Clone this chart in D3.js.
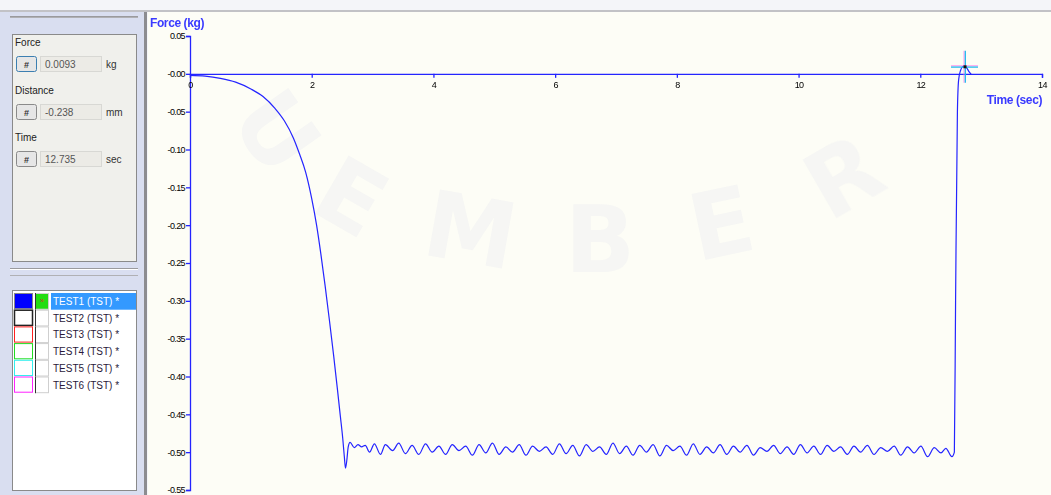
<!DOCTYPE html>
<html>
<head>
<meta charset="utf-8">
<script src="https://cdn.jsdelivr.net/npm/d3@7"></script>
<style>
  html, body { margin: 0; padding: 0; background: #f4f5f9; }
  svg { display: block; font-family: "Liberation Sans", Arial, sans-serif; }
</style>
</head>
<body>
<svg id="view" width="1051" height="495"></svg>
<script>
// ---- Force / time trace of test TEST1 ----
const timeSec = [
  0, 0.25, 0.5, 0.75, 1.0, 1.2, 1.4, 1.55, 1.7, 1.8, 1.9, 2.0, 2.08, 2.15, 2.22, 2.29, 2.36, 2.42, 2.47, 2.51, 2.535, 2.555, 2.575, 2.6, 2.63,
  2.70, 2.76, 2.82, 2.88, 2.95, 3.03, 3.13, 3.21, 3.33, 3.43, 3.54, 3.65, 3.76, 3.87, 3.98, 4.09,
  4.20, 4.31, 4.42, 4.53, 4.64, 4.75, 4.86, 4.97, 5.08, 5.19, 5.30, 5.41, 5.52, 5.63, 5.74, 5.85,
  5.96, 6.07, 6.18, 6.29, 6.40, 6.51, 6.62, 6.73, 6.84, 6.95, 7.06, 7.17, 7.28, 7.39, 7.50, 7.61,
  7.72, 7.83, 7.94, 8.05, 8.16, 8.27, 8.38, 8.49, 8.60, 8.71, 8.82, 8.93, 9.04, 9.15, 9.26, 9.37,
  9.48, 9.59, 9.70, 9.81, 9.92, 10.03, 10.14, 10.25, 10.36, 10.47, 10.58, 10.69, 10.80, 10.91,
  11.02, 11.13, 11.24, 11.35, 11.46, 11.57, 11.68, 11.79, 11.90, 12.01, 12.12, 12.23, 12.34, 12.42,
  12.52, 12.56, 12.58, 12.61, 12.63, 12.66, 12.71, 12.75, 12.80, 12.84
];
const forceKg = [
  -0.002, -0.003, -0.006, -0.011, -0.020, -0.030, -0.046, -0.062, -0.085, -0.106, -0.130, -0.165, -0.200, -0.238, -0.280, -0.325, -0.372, -0.415, -0.452, -0.482, -0.505, -0.521, -0.512, -0.493, -0.487,
  -0.494, -0.490, -0.493, -0.491, -0.500, -0.489, -0.503, -0.490, -0.498, -0.488, -0.502, -0.491, -0.503, -0.489, -0.500, -0.492,
  -0.503, -0.490, -0.498, -0.492, -0.504, -0.490, -0.501, -0.488, -0.503, -0.493, -0.500, -0.490, -0.504, -0.492, -0.499, -0.493,
  -0.503, -0.489, -0.502, -0.491, -0.505, -0.490, -0.499, -0.493, -0.503, -0.488, -0.502, -0.492, -0.504, -0.491, -0.500, -0.490,
  -0.505, -0.491, -0.498, -0.492, -0.504, -0.489, -0.503, -0.493, -0.501, -0.490, -0.503, -0.492, -0.500, -0.491, -0.504, -0.494,
  -0.499, -0.491, -0.502, -0.493, -0.503, -0.490, -0.501, -0.492, -0.503, -0.491, -0.499, -0.493, -0.503, -0.492,
  -0.500, -0.491, -0.503, -0.494, -0.499, -0.492, -0.504, -0.493, -0.501, -0.492, -0.506, -0.494, -0.501, -0.495,
  -0.506, -0.500, -0.300, -0.050, -0.008, 0.004, 0.010, 0.009, 0.003, -0.001
];

// axis ticks
const xTicks = [0, 2, 4, 6, 8, 10, 12, 14];
const yTicks = [0.05, 0, -0.05, -0.10, -0.15, -0.20, -0.25, -0.30, -0.35, -0.40, -0.45, -0.50, -0.55];
const yTickLabels = ["0.05", "-0.00", "-0.05", "-0.10", "-0.15", "-0.20", "-0.25", "-0.30", "-0.35", "-0.40", "-0.45", "-0.50", "-0.55"];

// cursor readout
const readoutNames = ["Force", "Distance", "Time"];
const readoutValues = ["0.0093", "-0.238", "12.735"];
const readoutUnits = ["kg", "mm", "sec"];
const cursorTime = 12.735;
const cursorForce = 0.0093;

// test list
const testNames = ["TEST1 (TST) *", "TEST2 (TST) *", "TEST3 (TST) *", "TEST4 (TST) *", "TEST5 (TST) *", "TEST6 (TST) *"];
const testColors = ["#0000ff", "#222222", "#ff2020", "#22dd22", "#33eeee", "#ff22ff"];

const svg = d3.select("#view");

// ---------- window background ----------
svg.append("rect").attr("x", 0).attr("y", 0).attr("width", 1051).attr("height", 495).attr("fill", "#f4f5f9");
svg.append("rect").attr("x", 0).attr("y", 10).attr("width", 1051).attr("height", 2).attr("fill", "#c2c2c6");

// ---------- left panel ----------
const panel = svg.append("g");
panel.append("rect").attr("x", 0).attr("y", 12).attr("width", 146).attr("height", 483).attr("fill", "#d9def0");
panel.append("rect").attr("x", 144).attr("y", 12).attr("width", 3).attr("height", 483).attr("fill", "#8c8c90");
// separator strips
[[16, 17], [268, 275]].forEach(([a, b]) => {
  panel.append("line").attr("x1", 10).attr("x2", 138).attr("y1", a + 0.5).attr("y2", a + 0.5).attr("stroke", "#9a9a9e");
  panel.append("line").attr("x1", 10).attr("x2", 138).attr("y1", a + 1.5).attr("y2", a + 1.5).attr("stroke", "#ffffff");
  panel.append("line").attr("x1", 10).attr("x2", 138).attr("y1", b + 0.5).attr("y2", b + 0.5).attr("stroke", "#b0b0b4");
});

// readout box
panel.append("rect").attr("x", 12.5).attr("y", 34.5).attr("width", 124).attr("height", 227)
  .attr("fill", "#f0f0ec").attr("stroke", "#8a8a8a");
const rowTop = [36, 84, 131];
readoutNames.forEach((name, i) => {
  const y0 = rowTop[i];
  panel.append("text").attr("x", 15).attr("y", y0 + 10).attr("font-size", 10).attr("fill", "#222").text(name);
  panel.append("rect").attr("x", 16.5).attr("y", y0 + 20.5).attr("width", 20).attr("height", 15).attr("rx", 2)
    .attr("fill", "#e6e6e6").attr("stroke", i === 0 ? "#3c7fb1" : "#8a8a8a");
  panel.append("text").attr("x", 26.5).attr("y", y0 + 31.5).attr("font-size", 9).attr("font-weight", "bold")
    .attr("text-anchor", "middle").attr("fill", "#333").text("#");
  panel.append("rect").attr("x", 40.5).attr("y", y0 + 20.5).attr("width", 61).attr("height", 15)
    .attr("fill", "#ecebe6").attr("stroke", "#d8d8d4");
  panel.append("text").attr("x", 45).attr("y", y0 + 31.5).attr("font-size", 10).attr("fill", "#555").text(readoutValues[i]);
  panel.append("text").attr("x", 106).attr("y", y0 + 32).attr("font-size", 10).attr("fill", "#333").text(readoutUnits[i]);
});

// test list box
panel.append("rect").attr("x", 12.5).attr("y", 290.5).attr("width", 124).attr("height", 200)
  .attr("fill", "#ffffff").attr("stroke", "#8a8a8a");
const rowH = 16.7;
testNames.forEach((name, i) => {
  const y0 = 293 + i * rowH;
  if (i === 0) {
    panel.append("rect").attr("x", 51).attr("y", y0).attr("width", 85).attr("height", rowH).attr("fill", "#3399ff");
  }
  panel.append("rect").attr("x", 14.5).attr("y", y0 + 0.5).attr("width", 18).attr("height", rowH - 1.5)
    .attr("fill", i === 0 ? testColors[0] : "#ffffff")
    .attr("stroke", i === 0 ? "#888" : testColors[i]).attr("stroke-width", i === 1 ? 1.5 : 1);
  panel.append("rect").attr("x", 35.5).attr("y", y0 + 0.5).attr("width", 13).attr("height", rowH - 1)
    .attr("fill", i === 0 ? "#22dd11" : "#ffffff").attr("stroke", "#cfcfcf");
  panel.append("line").attr("x1", 35.5).attr("x2", 35.5).attr("y1", y0).attr("y2", y0 + rowH)
    .attr("stroke", "#333");
  if (i === 0) {
    panel.append("text").attr("x", 42).attr("y", y0 + 10).attr("font-size", 7).attr("text-anchor", "middle")
      .attr("fill", "#d03020").text("»");
  }
  panel.append("text").attr("x", 53).attr("y", y0 + 12).attr("font-size", 10)
    .attr("fill", i === 0 ? "#ffffff" : "#2a1a3a").text(name);
});

// ---------- plot area ----------
svg.append("rect").attr("x", 148).attr("y", 12).attr("width", 903).attr("height", 483).attr("fill", "#fdfdf6");

// faint watermark lettering
const mark = svg.append("g").attr("fill", "#e6e7f0").attr("opacity", 0.3)
  .attr("font-size", 92).attr("font-weight", "bold").attr("font-family", "DejaVu Sans, sans-serif");
[["U", 250, 150, 55], ["E", 335, 225, 30], ["M", 465, 262, 10], ["B", 600, 272, 0], ["E", 728, 255, -12], ["R", 860, 205, -30]]
  .forEach(([ch, x, y, r]) => {
    mark.append("text").attr("transform", `translate(${x},${y}) rotate(${r})`).attr("text-anchor", "middle").text(ch);
  });

const x = d3.scaleLinear().domain([0, 14]).range([190, 1042]);
const y = d3.scaleLinear().domain([-0.55, 0.05]).range([490, 36]);

const blue = "#2424ff";

// y axis
const yAxis = d3.axisLeft(y).tickValues(yTicks).tickSize(4).tickPadding(1)
  .tickFormat((d, i) => yTickLabels[i]);
const gy = svg.append("g").attr("transform", `translate(${x(0)},0)`).call(yAxis);
gy.select(".domain").attr("stroke", blue).attr("stroke-width", 1.3);
gy.selectAll(".tick line").attr("stroke", blue).attr("stroke-width", 1.3);
gy.selectAll(".tick text").attr("fill", "#000").attr("font-size", 9).attr("letter-spacing", -0.6)
  .attr("font-family", "Liberation Sans, Arial, sans-serif");

// x axis along zero force
const xAxis = d3.axisBottom(x).tickValues(xTicks).tickSize(4).tickPadding(4).tickFormat(d3.format("d"));
const gx = svg.append("g").attr("transform", `translate(0,${y(0)})`).call(xAxis);
gx.select(".domain").attr("stroke", blue).attr("stroke-width", 1.3);
gx.selectAll(".tick line").attr("stroke", blue).attr("stroke-width", 1.3);
gx.selectAll(".tick text").attr("fill", "#000").attr("font-size", 9).attr("letter-spacing", -0.6)
  .attr("font-family", "Liberation Sans, Arial, sans-serif");

// axis titles
svg.append("text").attr("x", 150).attr("y", 27).attr("font-size", 12).attr("font-weight", "bold")
  .attr("fill", "#3a3aff").attr("letter-spacing", -0.4).text("Force (kg)");
svg.append("text").attr("x", 1042).attr("y", 104).attr("text-anchor", "end").attr("font-size", 12)
  .attr("font-weight", "bold").attr("fill", "#3a3aff").attr("letter-spacing", -0.4).text("Time (sec)");

// force trace
const trace = timeSec.map((t, i) => [t, forceKg[i]]);
svg.append("path").datum(trace)
  .attr("fill", "none").attr("stroke", blue).attr("stroke-width", 1.2).attr("stroke-linejoin", "round")
  .attr("d", d3.line().curve(d3.curveMonotoneX).x(d => x(d[0])).y(d => y(d[1])));

// cursor cross
const cx = x(cursorTime), cy = y(cursorForce);
const cross = svg.append("g");
cross.append("line").attr("x1", cx - 1).attr("x2", cx - 1).attr("y1", cy - 16).attr("y2", cy + 16).attr("stroke", "#ff77ee").attr("stroke-width", 0.8);
cross.append("line").attr("x1", cx + 0.3).attr("x2", cx + 0.3).attr("y1", cy - 16).attr("y2", cy + 16).attr("stroke", "#22bbee").attr("stroke-width", 1.3);
cross.append("line").attr("x1", cx - 14).attr("x2", cx + 13).attr("y1", cy - 1).attr("y2", cy - 1).attr("stroke", "#ff77ee").attr("stroke-width", 0.8);
cross.append("line").attr("x1", cx - 14).attr("x2", cx + 13).attr("y1", cy + 0.3).attr("y2", cy + 0.3).attr("stroke", "#22bbee").attr("stroke-width", 1.3);
cross.append("rect").attr("x", cx - 1.5).attr("y", cy - 1.5).attr("width", 3).attr("height", 3).attr("fill", "#111");
</script>
</body>
</html>
